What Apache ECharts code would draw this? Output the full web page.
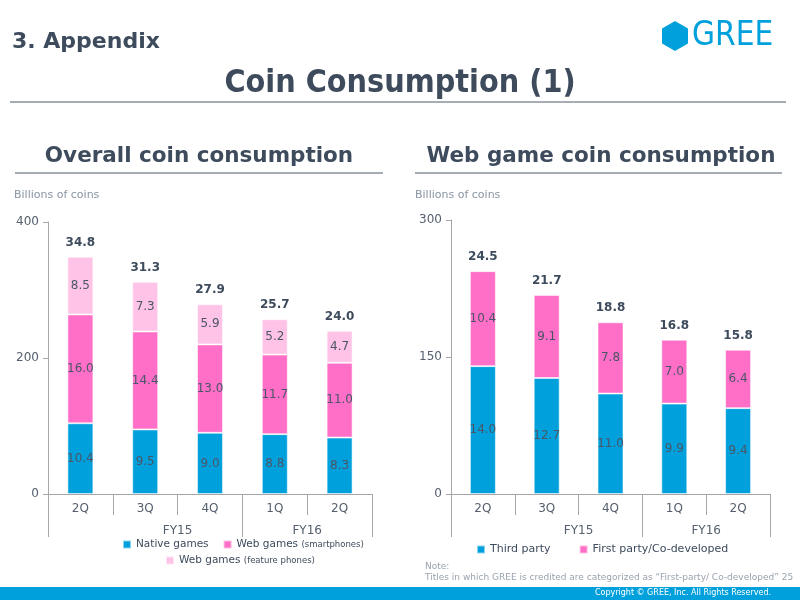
<!DOCTYPE html>
<html>
<head>
<meta charset="utf-8">
<script src="https://cdn.jsdelivr.net/npm/echarts@6/dist/echarts.min.js"></script>
<style>html,body{margin:0;padding:0;background:#fff}#c{width:800px;height:600px}</style>
</head>
<body>
<div id="c"></div>
<script>
// ---- data ----
const quarters = ['2Q', '3Q', '4Q', '1Q', '2Q'];
const fyLabels = ['', '', '', '', 'FY15', '', '', '', 'FY16', '', ''];
// Overall coin consumption (billions of coins)
const nativeGames = [10.4, 9.5, 9.0, 8.8, 8.3];
const webSmart = [16.0, 14.4, 13.0, 11.7, 11.0];
const webFeature = [8.5, 7.3, 5.9, 5.2, 4.7];
const overallTotals = [34.8, 31.3, 27.9, 25.7, 24.0];
// Web game coin consumption (billions of coins)
const thirdParty = [14.0, 12.7, 11.0, 9.9, 9.4];
const firstParty = [10.4, 9.1, 7.8, 7.0, 6.4];
const webTotals = [24.5, 21.7, 18.8, 16.8, 15.8];
const leftTicks = [0, 200, 400];
const rightTicks = [0, 150, 300];

const DARK = '#3d4b5c';
const BLUE = '#00a0dc';
const PINK = '#ff6ec7';
const LPINK = '#ffc3e7';
const AX = '#a6a6a6';
const FONT = '"DejaVu Sans", Verdana, sans-serif';

const chart = echarts.init(document.getElementById('c'), null, {renderer: 'canvas'});
const scale = v => +(v * 10).toFixed(1);

function segLabel() {
  return {show: true, position: 'inside', color: '#4a5667', fontSize: 12, fontFamily: FONT,
    formatter: p => (p.value / 10).toFixed(1)};
}
function totalLabel(totals) {
  return {show: true, position: 'top', distance: 8, color: DARK, fontSize: 12, fontWeight: 'bold', fontFamily: FONT,
    formatter: p => totals[p.dataIndex].toFixed(1)};
}
function barSeries(name, data, color, xi, yi, stack) {
  return {
    name, type: 'bar', stack, xAxisIndex: xi, yAxisIndex: yi, barWidth: 26,
    data: data.map(scale),
    itemStyle: {color, borderColor: 'rgba(255,255,255,0.55)', borderWidth: 1},
    label: segLabel(),
    labelLayout: {hideOverlap: false},
    emphasis: {disabled: true}
  };
}
function quarterAxis(gi) {
  return {
    type: 'category', gridIndex: gi, data: quarters, position: 'bottom', boundaryGap: true,
    axisLine: {show: true, lineStyle: {color: AX, width: 1}},
    axisTick: {show: true, length: 21, lineStyle: {color: AX}},
    axisLabel: {color: '#555f6d', fontSize: 12, fontFamily: FONT, margin: 9}
  };
}
function fyAxis(gi) {
  return {
    type: 'category', gridIndex: gi, data: fyLabels, position: 'bottom', boundaryGap: false,
    axisLine: {show: false},
    axisTick: {show: true, length: 43, interval: (i) => i === 0 || i === 6 || i === 10, lineStyle: {color: AX}},
    axisLabel: {color: '#555f6d', fontSize: 12, fontFamily: FONT, margin: 31, interval: (i, v) => v !== ''}
  };
}
function valAxis(gi, ticks) {
  return {
    type: 'value', gridIndex: gi, min: ticks[0], max: ticks[ticks.length - 1], interval: ticks[1] - ticks[0],
    axisLine: {show: true, lineStyle: {color: AX}},
    axisTick: {show: true, length: 5, lineStyle: {color: AX}},
    splitLine: {show: false},
    axisLabel: {color: '#555f6d', fontSize: 12, fontFamily: FONT, margin: 9}
  };
}

const topLeft = {
  name: 'totL', type: 'bar', stack: 'a', xAxisIndex: 0, yAxisIndex: 0, barWidth: 26,
  data: quarters.map(() => 0), itemStyle: {color: 'transparent'}, label: totalLabel(overallTotals),
  emphasis: {disabled: true}, silent: true
};
const topRight = {
  name: 'totR', type: 'bar', stack: 'b', xAxisIndex: 2, yAxisIndex: 1, barWidth: 26,
  data: quarters.map(() => 0), itemStyle: {color: 'transparent'}, label: totalLabel(webTotals),
  emphasis: {disabled: true}, silent: true
};

const legendText = {color: DARK, fontSize: 10.5, fontFamily: FONT,
  rich: {a: {color: DARK, fontSize: 10.5, fontFamily: FONT}, b: {color: DARK, fontSize: 8.5, fontFamily: FONT}}};
const legendFmt = n => {
  const m = n.match(/^(.*?) (\(.*\))$/);
  return m ? '{a|' + m[1] + '} {b|' + m[2] + '}' : '{a|' + n + '}';
};

const option = {
  animation: false,
  backgroundColor: '#fff',
  grid: [
    {left: 48, right: 428, top: 222, bottom: 106},
    {left: 451, right: 30, top: 220, bottom: 106}
  ],
  xAxis: [quarterAxis(0), fyAxis(0), quarterAxis(1), fyAxis(1)],
  yAxis: [valAxis(0, leftTicks), valAxis(1, rightTicks)],
  legend: [
    {data: ['Native games', 'Web games (smartphones)'], left: 122, top: 539, padding: 0, icon: 'rect', itemWidth: 8, itemHeight: 8, itemGap: 14,
      textStyle: legendText, formatter: legendFmt, selectedMode: false},
    {data: ['Web games (feature phones)'], left: 165, top: 555, padding: 0, icon: 'rect', itemWidth: 8, itemHeight: 8, itemGap: 6,
      textStyle: legendText, formatter: legendFmt, selectedMode: false},
    {data: ['Third party', 'First party/Co-developed'], left: 476, top: 544, padding: 0, icon: 'rect', itemWidth: 8, itemHeight: 8, itemGap: 28,
      textStyle: {color: DARK, fontSize: 11, fontFamily: FONT}, selectedMode: false}
  ],
  series: [
    barSeries('Native games', nativeGames, BLUE, 0, 0, 'a'),
    barSeries('Web games (smartphones)', webSmart, PINK, 0, 0, 'a'),
    barSeries('Web games (feature phones)', webFeature, LPINK, 0, 0, 'a'),
    topLeft,
    barSeries('Third party', thirdParty, BLUE, 2, 1, 'b'),
    barSeries('First party/Co-developed', firstParty, PINK, 2, 1, 'b'),
    topRight
  ],
  graphic: [
    {type: 'text', x: 12, y: 42, style: {text: '3. Appendix', fill: DARK, font: 'bold 22px ' + FONT, verticalAlign: 'middle'}},
    {type: 'polygon', shape: {points: [[675, 21], [688, 28.5], [688, 43.5], [675, 51], [662, 43.5], [662, 28.5]]}, style: {fill: BLUE}},
    {type: 'text', x: 692, y: 36, style: {text: 'GREE', fill: BLUE, font: '33px "DejaVu Sans Condensed", sans-serif', verticalAlign: 'middle'}},
    {type: 'text', x: 400, y: 84, style: {text: 'Coin Consumption (1)', fill: DARK, font: 'bold 32px "DejaVu Sans Condensed", ' + FONT, align: 'center', verticalAlign: 'middle'}},
    {type: 'line', shape: {x1: 10, y1: 102, x2: 786, y2: 102}, style: {stroke: '#4f5b6a', lineWidth: 1}},
    {type: 'text', x: 199, y: 156, style: {text: 'Overall coin consumption', fill: DARK, font: 'bold 21.5px ' + FONT, align: 'center', verticalAlign: 'middle'}},
    {type: 'line', shape: {x1: 15, y1: 173, x2: 383, y2: 173}, style: {stroke: '#4f5b6a', lineWidth: 1}},
    {type: 'text', x: 601, y: 156, style: {text: 'Web game coin consumption', fill: DARK, font: 'bold 21.5px ' + FONT, align: 'center', verticalAlign: 'middle'}},
    {type: 'line', shape: {x1: 415, y1: 173, x2: 782, y2: 173}, style: {stroke: '#4f5b6a', lineWidth: 1}},
    {type: 'text', left: 14, top: 190, style: {text: 'Billions of coins', fill: '#8a94a3', font: '11px ' + FONT}},
    {type: 'text', left: 415, top: 190, style: {text: 'Billions of coins', fill: '#8a94a3', font: '11px ' + FONT}},
    {type: 'text', left: 425, top: 562, style: {text: 'Note:', fill: '#9aa3ae', font: '9px ' + FONT}},
    {type: 'text', left: 425, top: 573, style: {text: 'Titles in which GREE is credited are categorized as \u201cFirst-party/ Co-developed\u201d 25', fill: '#9aa3ae', font: '9px ' + FONT}},
    {type: 'rect', shape: {x: 0, y: 587, width: 800, height: 13}, style: {fill: BLUE}},
    {type: 'text', right: 29, top: 589, style: {text: 'Copyright \u00a9 GREE, Inc. All Rights Reserved.', fill: '#fff', font: '8px ' + FONT}}
  ]
};
chart.setOption(option);
</script>
</body>
</html>
